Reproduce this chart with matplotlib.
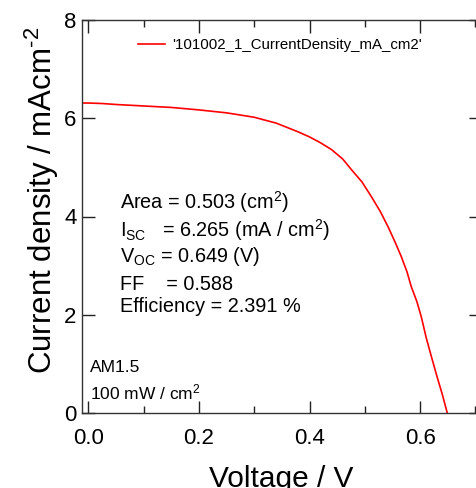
import matplotlib
matplotlib.use('Agg')
import matplotlib.pyplot as plt
from matplotlib.ticker import MultipleLocator, FormatStrFormatter

plt.rcParams['font.family'] = ['Liberation Sans', 'DejaVu Sans']
plt.rcParams['mathtext.fontset'] = 'custom'
plt.rcParams['mathtext.rm'] = 'Liberation Sans'
plt.rcParams['mathtext.it'] = 'Liberation Sans:italic'
plt.rcParams['mathtext.bf'] = 'Liberation Sans:bold'

# J-V curve
voltage = [-0.011, 0.000, 0.025, 0.050, 0.100, 0.150, 0.200, 0.250, 0.300,
           0.340, 0.380, 0.400, 0.420, 0.440, 0.460, 0.476, 0.495, 0.512,
           0.528, 0.542, 0.555, 0.566, 0.576, 0.584, 0.594, 0.602, 0.611,
           0.620, 0.630, 0.640, 0.649]
current = [6.31, 6.31, 6.30, 6.28, 6.25, 6.22, 6.17, 6.11, 6.02,
           5.90, 5.72, 5.62, 5.50, 5.36, 5.17, 4.95, 4.70, 4.40,
           4.10, 3.79, 3.47, 3.18, 2.88, 2.57, 2.27, 1.96, 1.53,
           1.16, 0.76, 0.38, 0.00]

legend_label = "'101002_1_CurrentDensity_mA_cm2'"
stats_lines = [
    r'Area = 0.503 (cm$^2$)',
    r'I$_{\mathrm{SC}}$   = 6.265 (mA / cm$^2$)',
    r'V$_{\mathrm{OC}}$ = 0.649 (V)',
    r'FF    = 0.588',
    r'Efficiency = 2.391 %',
]
light_lines = ['AM1.5', r'100 mW / cm$^2$']

fig = plt.figure(figsize=(4.76, 4.88), dpi=100)
ax = fig.add_axes([82 / 476, 1 - 413 / 488, 399 / 476, 393 / 488])

ax.plot(voltage, current, color='#ff0000', lw=1.2, label=legend_label)

ax.set_xlim(-0.0114, 0.71)
ax.set_ylim(0, 8)
ax.xaxis.set_major_locator(MultipleLocator(0.2))
ax.xaxis.set_minor_locator(MultipleLocator(0.1))
ax.yaxis.set_major_locator(MultipleLocator(2))
ax.xaxis.set_major_formatter(FormatStrFormatter('%.1f'))
ax.yaxis.set_major_formatter(FormatStrFormatter('%d'))

ax.tick_params(which='both', direction='in', top=True, right=True,
               colors='#222222', labelcolor='black')
ax.tick_params(which='major', length=9, width=1, labelsize=16)
ax.tick_params(axis='x', which='major', pad=11)
ax.tick_params(axis='y', which='major', pad=4)
ax.tick_params(which='minor', length=5, width=1)
for s in ax.spines.values():
    s.set_color('#333333')
    s.set_linewidth(1)

ax.set_xlabel('Voltage / V', fontsize=21.5, labelpad=11)
ax.set_ylabel('Current density / mAcm$^{\u2010\\mathrm{2}}$', fontsize=22.5,
              labelpad=2)
ax.yaxis.label.set_y(0.54)

ax.legend(loc='center left', bbox_to_anchor=(138 / 476, 1 - 45 / 488),
          bbox_transform=fig.transFigure, frameon=False, fontsize=10.8,
          handlelength=1.8, handletextpad=0.5, borderpad=0, borderaxespad=0)

ys = [202, 230, 256, 284, 307]
for txt, y in zip(stats_lines, ys):
    ax.text(120 / 476, 1 - y / 488, txt, transform=fig.transFigure,
            fontsize=14.3, va='center', ha='left')
for txt, y in zip(light_lines, [368, 392]):
    ax.text(90 / 476, 1 - y / 488, txt, transform=fig.transFigure,
            fontsize=12.5, va='center', ha='left')

fig.savefig('out.png', dpi=100)
plt.close(fig)
